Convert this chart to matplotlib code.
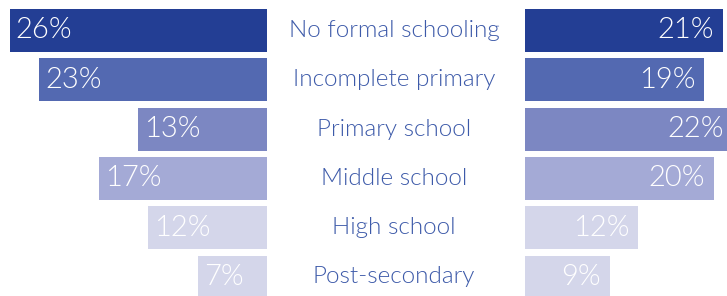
import matplotlib
matplotlib.use("Agg")
import matplotlib.pyplot as plt

categories = ["No formal schooling", "Incomplete primary", "Primary school",
              "Middle school", "High school", "Post-secondary"]
left_values = [26, 23, 13, 17, 12, 7]
right_values = [21, 19, 22, 20, 12, 9]
colors = ["#233E94", "#5369B1", "#7C87C2", "#A4AAD6", "#D4D6EA", "#D4D6EA"]
text_color = "#3D5AA9"

W, H = 727, 296
fig = plt.figure(figsize=(W / 100, H / 100), dpi=100)

pitch = 49.3
c0 = 30.5
y_top = -c0 / pitch
y_bot = (H - c0) / pitch

font = "Lato"
weight = 300

axL = fig.add_axes([0, 0, 267 / W, 1])
axL.set_xlim(267 / 9.9, 0)
axL.set_ylim(y_bot, y_top)
axR = fig.add_axes([525 / W, 0, (W - 525) / W, 1])
axR.set_xlim(0, (W - 525) / 9.43)
axR.set_ylim(y_bot, y_top)

ys = list(range(len(categories)))
axL.barh(ys, left_values, height=0.87, color=colors)
axR.barh(ys, right_values, height=0.87, color=colors)

for y, v in zip(ys, left_values):
    axL.annotate(f"{v}%", (v, y), xytext=(6, 0), textcoords="offset pixels",
                 ha="left", va="center", color="white", fontsize=21,
                 family=font, fontweight=weight, annotation_clip=False)
for y, v in zip(ys, right_values):
    axR.annotate(f"{v}%", (v, y), xytext=(-9, 0), textcoords="offset pixels",
                 ha="right", va="center", color="white", fontsize=21,
                 family=font, fontweight=weight, annotation_clip=False)

for ax in (axL, axR):
    ax.axis("off")

axM = fig.add_axes([0, 0, 1, 1])
axM.set_xlim(0, W)
axM.set_ylim(y_bot, y_top)
axM.axis("off")
for y, c in zip(ys, categories):
    axM.text(394, y, c, ha="center", va="center", color=text_color,
             fontsize=17.5, family=font, fontweight=weight)

fig.savefig("out.png", dpi=100)
